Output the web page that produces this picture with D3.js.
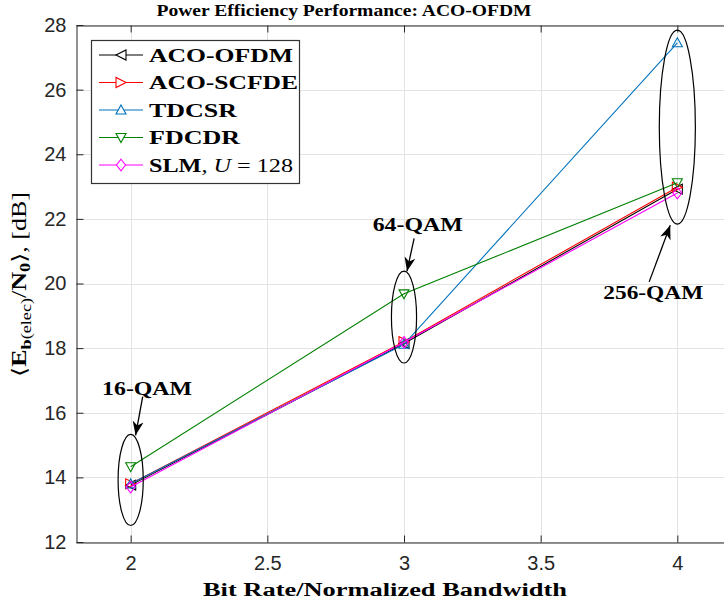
<!DOCTYPE html>
<html><head><meta charset="utf-8">
<script src="https://cdn.jsdelivr.net/npm/d3@7"></script>
<style>
body{margin:0;background:#fff}
svg{display:block}
</style>
</head><body>
<svg id="chart" width="724" height="606"></svg>
<script>
// Spectral efficiency (bit/s/Hz) of 16/64/256-QAM
const bitRates = [2, 3, 4];
// Required average electrical Eb/N0 in dB for each scheme
const acoOfdm  = [13.76, 18.14, 22.92];
const acoScfde = [13.80, 18.20, 22.98];
const tdcsr    = [13.80, 18.12, 27.45];
const fdcdr    = [14.33, 19.68, 23.12];
const slm      = [13.70, 18.18, 22.80];
const seriesNames = ["ACO-OFDM", "ACO-SCFDE", "TDCSR", "FDCDR", "SLM"];
const xTicks = [2, 2.5, 3, 3.5, 4];
const yTicks = [12, 14, 16, 18, 20, 22, 24, 26, 28];
const qamLabels = ["16-QAM", "64-QAM", "256-QAM"];

const seriesValues = [acoOfdm, acoScfde, tdcsr, fdcdr, slm];
const seriesStyle = [
  {color: "#000000", marker: "left"},
  {color: "#ff0000", marker: "right"},
  {color: "#0072bd", marker: "up"},
  {color: "#008000", marker: "down"},
  {color: "#ff00ff", marker: "diamond"}
];

// Ellipses grouping the points of each modulation order, and their callouts (data units)
const groupMarks = [
  {cx: 2, cy: 13.92, rx: 0.046, ry: 1.41,
   text: [2.06, 16.55], from: [2.044, 16.50], to: [2.018, 15.30]},
  {cx: 3, cy: 18.96, rx: 0.046, ry: 1.42,
   text: [3.05, 21.62], from: [3.037, 21.40], to: [3.011, 20.38]},
  {cx: 4, cy: 24.84, rx: 0.066, ry: 3.00,
   text: [3.912, 19.52], from: [3.897, 20.05], to: [3.974, 21.80]}
];

const svg = d3.select("#chart");
const serif = "'Liberation Serif','DejaVu Serif',serif";
const sans = "'Liberation Sans',Arial,sans-serif";

const plot = {left: 76, right: 732, top: 25, bottom: 542};
const x = d3.scaleLinear().domain([1.8, 4.2]).range([plot.left, plot.right]);
const y = d3.scaleLinear().domain([12, 28]).range([plot.bottom, plot.top]);

svg.append("rect").attr("width", 724).attr("height", 606).attr("fill", "#fff");

// grid
const grid = svg.append("g").attr("stroke", "#e3e3e3").attr("stroke-width", 1);
grid.selectAll(".gx").data(xTicks).join("line")
  .attr("x1", d => Math.round(x(d)) + 0.5).attr("x2", d => Math.round(x(d)) + 0.5)
  .attr("y1", plot.top).attr("y2", plot.bottom);
grid.selectAll(".gy").data(yTicks).join("line")
  .attr("y1", d => Math.round(y(d)) + 0.5).attr("y2", d => Math.round(y(d)) + 0.5)
  .attr("x1", plot.left).attr("x2", plot.right);

// axes (ticks pointing inward, mirrored on top)
const axisColor = "#262626";
const tickLen = 7;
const bottomAxis = svg.append("g").attr("transform", `translate(0,${plot.bottom + 0.5})`)
  .call(d3.axisBottom(x).tickValues(xTicks).tickSizeInner(-tickLen).tickSizeOuter(0).tickPadding(13)
    .tickFormat(d3.format("")));
const topAxis = svg.append("g").attr("transform", `translate(0,${plot.top + 0.5})`)
  .call(d3.axisTop(x).tickValues(xTicks).tickSizeInner(-tickLen).tickSizeOuter(0).tickFormat(""));
const leftAxis = svg.append("g").attr("transform", `translate(${plot.left + 0.5},0)`)
  .call(d3.axisLeft(y).tickValues(yTicks).tickSizeInner(-tickLen).tickSizeOuter(0).tickPadding(10));
[bottomAxis, topAxis, leftAxis].forEach(g => {
  g.select(".domain").attr("stroke", axisColor).attr("stroke-width", 1);
  g.selectAll(".tick line").attr("stroke", axisColor);
  g.selectAll(".tick text").attr("fill", "#262626").attr("font-family", sans).attr("font-size", 20);
});

// marker shapes
function markerPath(type, s) {
  switch (type) {
    case "left":  return `M${-s},0L${s},${-s}L${s},${s}Z`;
    case "right": return `M${s},0L${-s},${-s}L${-s},${s}Z`;
    case "up":    return `M0,${-s}L${s},${s * 0.8}L${-s},${s * 0.8}Z`;
    case "down":  return `M0,${s}L${s},${-s * 0.8}L${-s},${-s * 0.8}Z`;
    case "diamond": return `M0,${-s * 1.15}L${s * 0.9},0L0,${s * 1.15}L${-s * 0.9},0Z`;
  }
}

// series lines and markers
const line = d3.line().x(d => x(d[0])).y(d => y(d[1]));
const seriesG = svg.append("g");
seriesValues.forEach((vals, i) => {
  const pts = bitRates.map((b, j) => [b, vals[j]]);
  const st = seriesStyle[i];
  seriesG.append("path").attr("d", line(pts)).attr("fill", "none")
    .attr("stroke", st.color).attr("stroke-width", 1.1);
  seriesG.selectAll(null).data(pts).join("path")
    .attr("transform", d => `translate(${x(d[0])},${y(d[1])})`)
    .attr("d", markerPath(st.marker, 5))
    .attr("fill", "none").attr("stroke", st.color).attr("stroke-width", 1.1);
});

// arrowhead
svg.append("defs").append("marker")
  .attr("id", "arrowhead").attr("viewBox", "-14 -6 16 12")
  .attr("refX", 0).attr("refY", 0).attr("markerWidth", 16).attr("markerHeight", 12)
  .attr("markerUnits", "userSpaceOnUse").attr("orient", "auto")
  .append("path").attr("d", "M0,0L-14,-5.5L-10,0L-14,5.5Z").attr("fill", "#000");

// grouping ellipses and callouts
const ann = svg.append("g");
groupMarks.forEach((g, i) => {
  ann.append("ellipse")
    .attr("cx", x(g.cx)).attr("cy", y(g.cy))
    .attr("rx", x(g.cx + g.rx) - x(g.cx)).attr("ry", y(g.cy - g.ry) - y(g.cy))
    .attr("fill", "none").attr("stroke", "#000").attr("stroke-width", 1.2);
  ann.append("line")
    .attr("x1", x(g.from[0])).attr("y1", y(g.from[1]))
    .attr("x2", x(g.to[0])).attr("y2", y(g.to[1]))
    .attr("stroke", "#000").attr("stroke-width", 1.3)
    .attr("marker-end", "url(#arrowhead)");
  ann.append("text")
    .attr("x", x(g.text[0])).attr("y", y(g.text[1]))
    .attr("text-anchor", "middle").attr("font-family", serif).attr("font-weight", "bold")
    .attr("font-size", 18).attr("textLength", i === 2 ? 100 : 90).attr("lengthAdjust", "spacingAndGlyphs")
    .text(qamLabels[i]);
});

// legend
const lg = svg.append("g");
lg.append("rect").attr("x", 91.5).attr("y", 40.5).attr("width", 208).attr("height", 143)
  .attr("fill", "#fff").attr("stroke", "#333").attr("stroke-width", 1.2);
const legendWidths = [144, 149, 88, 91, 144];
seriesNames.forEach((name, i) => {
  const yy = 55 + i * 27.5;
  const st = seriesStyle[i];
  lg.append("line").attr("x1", 99).attr("x2", 143).attr("y1", yy).attr("y2", yy)
    .attr("stroke", st.color).attr("stroke-width", 1.1);
  lg.append("path").attr("transform", `translate(121,${yy})`).attr("d", markerPath(st.marker, 5))
    .attr("fill", "#fff").attr("stroke", st.color).attr("stroke-width", 1.1);
  const t = lg.append("text").attr("x", 149).attr("y", yy + 6.5)
    .attr("font-family", serif).attr("font-size", 19).attr("fill", "#000")
    .attr("textLength", legendWidths[i]).attr("lengthAdjust", "spacingAndGlyphs");
  if (i < 4) {
    t.attr("font-weight", "bold").text(name);
  } else {
    t.append("tspan").attr("font-weight", "bold").text(name);
    t.append("tspan").text(", ");
    t.append("tspan").attr("font-style", "italic").text("U");
    t.append("tspan").text(" = 128");
  }
});

// title
svg.append("text").attr("x", 344).attr("y", 16).attr("text-anchor", "middle")
  .attr("font-family", serif).attr("font-weight", "bold").attr("font-size", 16)
  .attr("textLength", 375).attr("lengthAdjust", "spacingAndGlyphs")
  .text("Power Efficiency Performance: ACO-OFDM");

// x label
svg.append("text").attr("x", 385).attr("y", 596).attr("text-anchor", "middle")
  .attr("font-family", serif).attr("font-weight", "bold").attr("font-size", 18)
  .attr("textLength", 364).attr("lengthAdjust", "spacingAndGlyphs")
  .text("Bit Rate/Normalized Bandwidth");

// y label: <E_b(elec)/N_0>, [dB]
const yl = svg.append("text")
  .attr("transform", `translate(26,${(plot.top + plot.bottom) / 2 + 1}) rotate(-90)`)
  .attr("text-anchor", "middle").attr("font-family", serif).attr("font-size", 20).attr("fill", "#000")
  .attr("textLength", 185).attr("lengthAdjust", "spacingAndGlyphs");
yl.append("tspan").text("\u27E8");
yl.append("tspan").attr("font-weight", "bold").text("E");
yl.append("tspan").attr("font-weight", "bold").attr("font-size", 14).attr("dy", 5).text("b");
yl.append("tspan").attr("font-size", 14).text("(elec)");
yl.append("tspan").attr("dy", -5).text("/");
yl.append("tspan").attr("font-weight", "bold").text("N");
yl.append("tspan").attr("font-weight", "bold").attr("font-size", 14).attr("dy", 4).text("0");
yl.append("tspan").attr("dy", -4).text("\u27E9, [dB]");
</script>
</body></html>
